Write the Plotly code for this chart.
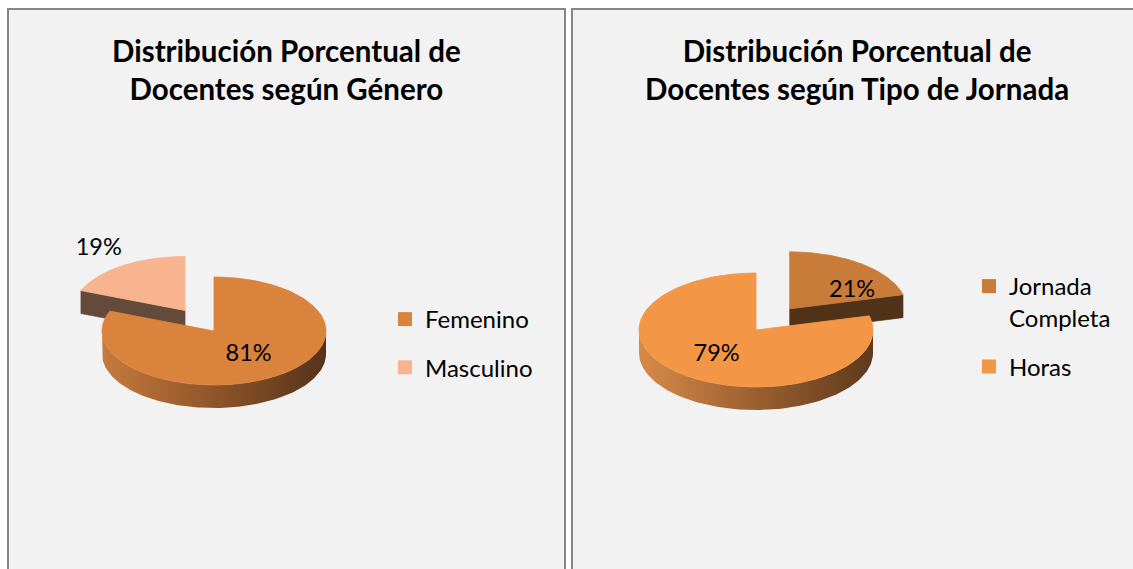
import numpy as np
import plotly.graph_objects as go

# ---------------- data ----------------
gender_labels = ["Femenino", "Masculino"]
gender_values = [81, 19]
gender_title = "Distribución Porcentual de<br>Docentes según Género"

shift_labels = ["Jornada Completa", "Horas"]
shift_legend_names = ["Jornada<br>Completa", "Horas"]
shift_values = [21, 79]
shift_title = "Distribución Porcentual de<br>Docentes según Tipo de Jornada"

# ---------------- style ----------------
W, H = 1133, 569
FONT = "Lato, 'Open Sans', sans-serif"

left_geo = dict(cx=214, cy=331, rx=112, ry=54, depth=23, explode=[0.0, 0.46],
                face=["#d9833c", "#f7b48f"],
                radial=["#6b3f1c", "#634a3b"],
                outer=[["#c57a3e", "#8f5529", "#55331a"], ["#c9906e", "#9a6c54", "#634a3b"]],
                label_k=[0.55, 1.37], label_nudge=[(0, 0), (0, 0)])
right_geo = dict(cx=756, cy=330, rx=117, ry=57, depth=23, explode=[0.47, 0.0],
                 face=["#c97b39", "#f39646"],
                 radial=["#4f3218", "#6b3f1c"],
                 outer=[["#a86a32", "#7a4a22", "#4f3218"], ["#d88a48", "#9a5f30", "#5e3a1c"]],
                 label_k=[0.55, 0.55], label_nudge=[(23, 7), (0, 0)])

fig = go.Figure()


def arc(cx, cy, rx, ry, a1, a2, n=140):
    t = np.radians(np.linspace(a1, a2, n))
    return cx + rx * np.sin(t), cy - ry * np.cos(t)


def add_pie3d(labels, values, geo):
    total = float(sum(values))
    spans = np.array(values, dtype=float) / total * 360.0
    starts = np.concatenate([[0.0], np.cumsum(spans)[:-1]])
    rx, ry, d = geo["rx"], geo["ry"], geo["depth"]
    slices = []
    for i in range(len(values)):
        a1, a2 = starts[i], starts[i] + spans[i]
        mid = np.radians((a1 + a2) / 2)
        e = geo["explode"][i]
        ox = geo["cx"] + e * rx * np.sin(mid)
        oy = geo["cy"] - e * ry * np.cos(mid)
        slices.append(dict(i=i, a1=a1, a2=a2, mid=mid, ox=ox, oy=oy))
    for s in sorted(slices, key=lambda s: s["oy"]):
        i, a1, a2, ox, oy = s["i"], s["a1"], s["a2"], s["ox"], s["oy"]
        # radial walls
        for ang, sign in ((a1, -1), (a2, 1)):
            if sign * np.sin(np.radians(ang)) > 1e-6:
                px = ox + rx * np.sin(np.radians(ang))
                py = oy - ry * np.cos(np.radians(ang))
                fig.add_trace(go.Scatter(
                    x=[ox, px, px, ox, ox], y=[oy, py, py + d, oy + d, oy],
                    mode="lines", fill="toself", fillcolor=geo["radial"][i],
                    line=dict(width=0.6, color=geo["radial"][i]),
                    hoverinfo="skip", showlegend=False))
        # outer curved wall (front half only)
        lo, hi = max(a1, 90.0), min(a2, 270.0)
        if hi > lo:
            tx, ty = arc(ox, oy, rx, ry, lo, hi)
            cs = geo["outer"][i]
            fig.add_trace(go.Scatter(
                x=np.concatenate([tx, tx[::-1]]), y=np.concatenate([ty, ty[::-1] + d]),
                mode="lines", fill="toself",
                fillgradient=dict(type="horizontal",
                                  colorscale=[[0, cs[0]], [0.5, cs[1]], [1, cs[2]]]),
                line=dict(width=0), hoverinfo="skip", showlegend=False))
        # top face
        tx, ty = arc(ox, oy, rx, ry, a1, a2)
        fig.add_trace(go.Scatter(
            x=np.concatenate([[ox], tx, [ox]]), y=np.concatenate([[oy], ty, [oy]]),
            mode="lines", fill="toself", fillcolor=geo["face"][i],
            line=dict(width=0.8, color=geo["face"][i]),
            name=labels[i], hoverinfo="skip", showlegend=False))
    # data labels
    lx, ly, lt = [], [], []
    for s in slices:
        i = s["i"]
        k = geo["label_k"][i]
        nx, ny = geo["label_nudge"][i]
        lx.append(s["ox"] + k * rx * np.sin(s["mid"]) + nx)
        ly.append(s["oy"] - k * ry * np.cos(s["mid"]) + ny)
        lt.append(f"{values[i]}%")
    fig.add_trace(go.Scatter(x=lx, y=ly, text=lt, mode="text",
                             textfont=dict(family=FONT, size=23.5, color="#000000"),
                             hoverinfo="skip", showlegend=False))


add_pie3d(gender_labels, gender_values, left_geo)
add_pie3d(shift_labels, shift_values, right_geo)

# legend entries
for lab, c in zip(gender_labels, left_geo["face"]):
    fig.add_trace(go.Scatter(x=[None], y=[None], mode="markers", name=lab,
                             marker=dict(symbol="square", size=14, color=c),
                             legend="legend", legendgroup=lab))
for lab, c in zip(shift_legend_names, right_geo["face"]):
    fig.add_trace(go.Scatter(x=[None], y=[None], mode="markers", name=lab,
                             marker=dict(symbol="square", size=14, color=c),
                             legend="legend2", legendgroup=lab))

# panels
fig.add_shape(type="rect", xref="x", yref="y", x0=8, y0=9, x1=565, y1=H + 5,
              fillcolor="#f2f2f2", line=dict(color="#868686", width=2), layer="below")
fig.add_shape(type="rect", xref="x", yref="y", x0=572, y0=9, x1=W + 5, y1=H + 5,
              fillcolor="#f2f2f2", line=dict(color="#868686", width=2), layer="below")

# titles
for tx, title in ((286.5, gender_title), (857, shift_title)):
    fig.add_annotation(x=tx, y=69, xref="x", yref="y", text=f"<b>{title}</b>",
                       showarrow=False, align="center", xanchor="center", yanchor="middle",
                       font=dict(family=FONT, size=29.5, color="#000000"))

fig.update_layout(
    width=W, height=H, margin=dict(l=0, r=0, t=0, b=0),
    paper_bgcolor="#ffffff", plot_bgcolor="#ffffff",
    xaxis=dict(range=[0, W], visible=False, fixedrange=True),
    yaxis=dict(range=[H, 0], visible=False, fixedrange=True),
    legend=dict(x=385 / W, y=1 - 297 / H, xanchor="left", yanchor="top",
                bgcolor="rgba(0,0,0,0)", tracegroupgap=14,
                font=dict(family=FONT, size=24, color="#000000")),
    legend2=dict(x=969 / W, y=1 - 264 / H, xanchor="left", yanchor="top",
                 bgcolor="rgba(0,0,0,0)", tracegroupgap=15, valign="top",
                 font=dict(family=FONT, size=24, color="#000000")),
    showlegend=True,
)

fig.write_html("out.html", config={"displayModeBar": False},
               post_script="document.body.style.margin='0';")
